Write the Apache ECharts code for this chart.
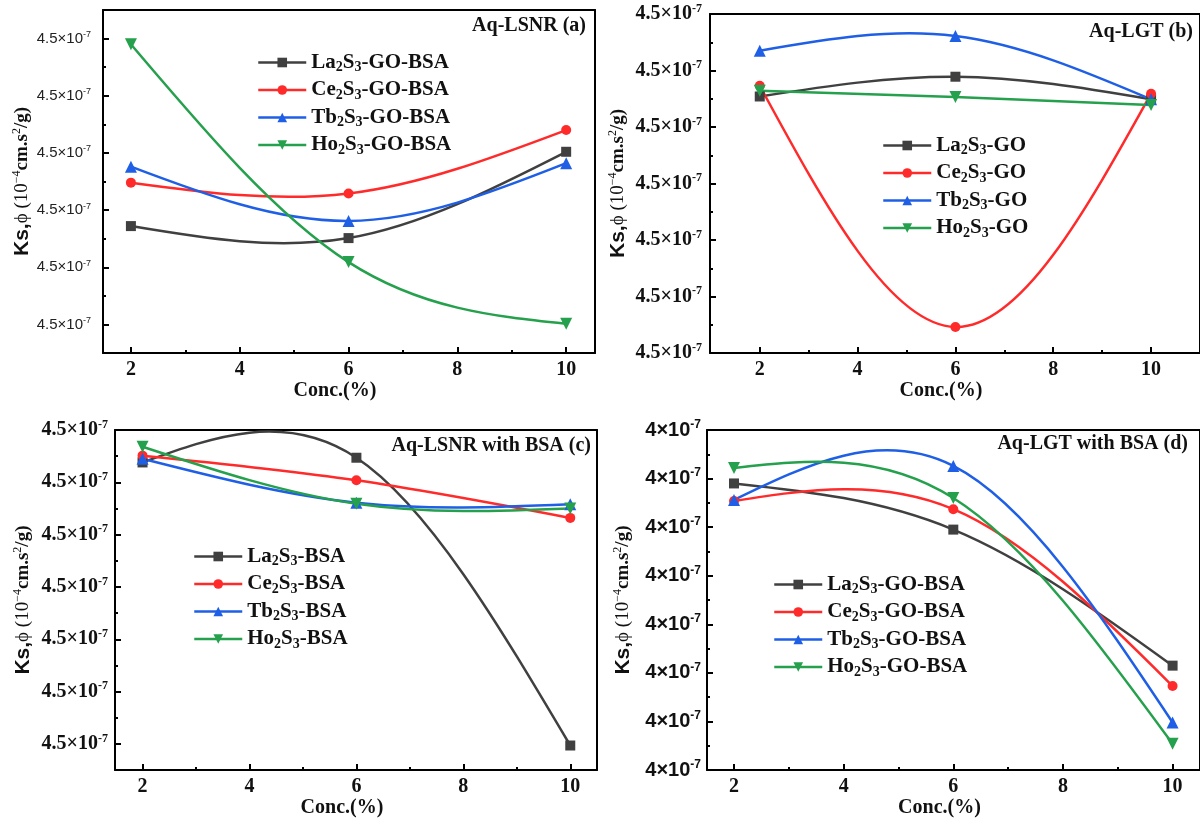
<!DOCTYPE html>
<html><head><meta charset="utf-8">
<script src="https://cdn.jsdelivr.net/npm/echarts@6/dist/echarts.min.js"></script>
<style>html,body{margin:0;padding:0;background:#fff}#c{width:1200px;height:819px}</style>
</head><body><div id="c"></div>
<script>
// ---------- data ----------
const concX = [2, 6, 10];
const xTickValues = [2, 4, 6, 8, 10];
const xTickLabels = ['2', '4', '6', '8', '10'];
const xMinorTicks = [3, 5, 7, 9];

const namesA = ['La2S3-GO-BSA', 'Ce2S3-GO-BSA', 'Tb2S3-GO-BSA', 'Ho2S3-GO-BSA'];
const namesB = ['La2S3-GO', 'Ce2S3-GO', 'Tb2S3-GO', 'Ho2S3-GO'];
const namesC = ['La2S3-BSA', 'Ce2S3-BSA', 'Tb2S3-BSA', 'Ho2S3-BSA'];
const namesD = ['La2S3-GO-BSA', 'Ce2S3-GO-BSA', 'Tb2S3-GO-BSA', 'Ho2S3-GO-BSA'];

// (a) Aq-LSNR
const aLa = [2.22, 2.01, 3.52];
const aCe = [2.98, 2.79, 3.90];
const aTb = [3.26, 2.31, 3.32];
const aHo = [5.40, 1.59, 0.51];
// (b) Aq-LGT
const bLa = [4.54, 4.89, 4.49];
const bCe = [4.73, 0.46, 4.59];
const bTb = [5.35, 5.61, 4.49];
const bHo = [4.64, 4.53, 4.39];
// (c) Aq-LSNR with BSA
const cLa = [5.88, 5.97, 0.47];
const cCe = [6.01, 5.54, 4.82];
const cTb = [5.95, 5.11, 5.08];
const cHo = [6.18, 5.09, 5.00];
// (d) Aq-LGT with BSA
const dLa = [5.90, 4.95, 2.15];
const dCe = [5.54, 5.37, 1.73];
const dTb = [5.56, 6.26, 0.98];
const dHo = [6.22, 5.60, 0.54];

// y tick positions (axis units) and their printed labels
const aYTicks = [0.5, 1.5, 2.5, 3.5, 4.5, 5.5];
const aYTickMantissa = ['4.5', '4.5', '4.5', '4.5', '4.5', '4.5'];
const aYMinor = [1, 2, 3, 4, 5];
const bYTicks = [0, 1, 2, 3, 4, 5, 6];
const bYTickMantissa = ['4.5', '4.5', '4.5', '4.5', '4.5', '4.5', '4.5'];
const bYMinor = [0.5, 1.5, 2.5, 3.5, 4.5, 5.5];
const cYTicks = [0.5, 1.5, 2.5, 3.5, 4.5, 5.5, 6.5];
const cYTickMantissa = ['4.5', '4.5', '4.5', '4.5', '4.5', '4.5', '4.5'];
const cYMinor = [1, 2, 3, 4, 5, 6];
const dYTicks = [0, 1, 2, 3, 4, 5, 6, 7];
const dYTickMantissa = ['4', '4', '4', '4', '4', '4', '4', '4'];
const dYMinor = [0.5, 1.5, 2.5, 3.5, 4.5, 5.5, 6.5];
const yTickExponent = '-7';

const panelTitles = ['Aq-LSNR (a)', 'Aq-LGT (b)', 'Aq-LSNR with BSA (c)', 'Aq-LGT with BSA (d)'];
const xAxisTitle = 'Conc.(%)';

// ---------- styling / layout ----------
const colors = ['#404040', '#ff2b2b', '#1f5fe6', '#25a04c'];
const symbols = ['rect', 'circle', 'triangle', 'triangle'];
const symbolRot = [0, 0, 0, 180];
const symbolSizes = [10, 10, 12, 12];
const SERIF = '"Liberation Serif", "Times New Roman", serif';
const SANS = '"Liberation Sans", Arial, sans-serif';

const panels = [
  { grid: {left: 103, top: 10, width: 492, height: 343}, xMin: 1.487, xMax: 10.53, yMin: 0, yMax: 6,
    yTicks: aYTicks, yMant: aYTickMantissa, yMinor: aYMinor, names: namesA, data: [aLa, aCe, aTb, aHo],
    yFont: {fontFamily: SANS, fontWeight: 'normal', fontSize: 15, color: '#222'}, yMargin: 12, nameGap: 69,
    legend: {left: 252, top: 47}, title: {x: 586, y: 26} },
  { grid: {left: 710, top: 14, width: 493, height: 339}, xMin: 0.983, xMax: 11, yMin: 0, yMax: 6,
    yTicks: bYTicks, yMant: bYTickMantissa, yMinor: bYMinor, names: namesB, data: [bLa, bCe, bTb, bHo],
    yFont: {fontFamily: SERIF, fontWeight: 'bold', fontSize: 20, color: '#111'}, yMargin: 8, nameGap: 81,
    legend: {left: 877, top: 130}, title: {x: 1193, y: 32} },
  { grid: {left: 115, top: 430, width: 482, height: 347}, xMin: 1.485, xMax: 10.5, yMin: 0, yMax: 6.5,
    yTicks: cYTicks, yMant: cYTickMantissa, yMinor: cYMinor, names: namesC, data: [cLa, cCe, cTb, cHo],
    yFont: {fontFamily: SERIF, fontWeight: 'bold', fontSize: 20, color: '#111'}, yMargin: 7, nameGap: 81,
    legend: {left: 188, top: 541}, title: {x: 591, y: 446} },
  { grid: {left: 707, top: 430, width: 497, height: 347}, xMin: 1.507, xMax: 10.5, yMin: 0, yMax: 7,
    yTicks: dYTicks, yMant: dYTickMantissa, yMinor: dYMinor, names: namesD, data: [dLa, dCe, dTb, dHo],
    yFont: {fontFamily: SANS, fontWeight: 'bold', fontSize: 20, color: '#111'}, yMargin: 6, nameGap: 73,
    legend: {left: 768, top: 569}, title: {x: 1188, y: 444} }
];

// natural cubic spline slopes at the knots (like Origin's "Spline" connect)
function splineSegments(xs, ys) {
  const n = xs.length, h = [], M = new Array(n).fill(0);
  for (let i = 0; i < n - 1; i++) h.push(xs[i + 1] - xs[i]);
  if (n > 2) {
    const a = [], b = [], c = [], r = [];
    for (let i = 1; i < n - 1; i++) {
      a.push(h[i - 1]); b.push(2 * (h[i - 1] + h[i])); c.push(h[i]);
      r.push(6 * ((ys[i + 1] - ys[i]) / h[i] - (ys[i] - ys[i - 1]) / h[i - 1]));
    }
    const m = b.length;
    for (let i = 1; i < m; i++) { const w = a[i] / b[i - 1]; b[i] -= w * c[i - 1]; r[i] -= w * r[i - 1]; }
    const sol = new Array(m);
    sol[m - 1] = r[m - 1] / b[m - 1];
    for (let i = m - 2; i >= 0; i--) sol[i] = (r[i] - c[i] * sol[i + 1]) / b[i];
    for (let i = 0; i < m; i++) M[i + 1] = sol[i];
  }
  const segs = [];
  for (let i = 0; i < n - 1; i++) {
    const s = (ys[i + 1] - ys[i]) / h[i];
    const d0 = s - h[i] * (2 * M[i] + M[i + 1]) / 6;
    const d1 = s + h[i] * (M[i] + 2 * M[i + 1]) / 6;
    segs.push({p0: [xs[i], ys[i]], c1: [xs[i] + h[i] / 3, ys[i] + d0 * h[i] / 3],
               c2: [xs[i + 1] - h[i] / 3, ys[i + 1] - d1 * h[i] / 3], p1: [xs[i + 1], ys[i + 1]]});
  }
  return segs;
}

const axisLineStyle = {color: '#000', width: 2};
const grids = [], xAxes = [], yAxes = [], series = [], legends = [], graphics = [];

panels.forEach((p, i) => {
  grids.push(Object.assign({containLabel: false}, p.grid));
  const xBase = xAxes.length;
  xAxes.push({
    type: 'value', gridIndex: i, min: p.xMin, max: p.xMax, position: 'bottom',
    axisLine: {show: true, onZero: false, lineStyle: axisLineStyle},
    axisTick: {show: true, inside: true, length: 6, lineStyle: {color: '#000', width: 2}, customValues: xTickValues},
    axisLabel: {show: true, customValues: xTickValues, margin: 7,
      formatter: v => xTickLabels[xTickValues.indexOf(v)] || '',
      fontFamily: SERIF, fontWeight: 'bold', fontSize: 20, color: '#111'},
    splitLine: {show: false},
    name: xAxisTitle, nameLocation: 'middle', nameGap: 25,
    nameTextStyle: {fontFamily: SERIF, fontWeight: 'bold', fontSize: 20, color: '#111', padding: [0, 28, 0, 0]}
  });
  xAxes.push({
    type: 'value', gridIndex: i, min: p.xMin, max: p.xMax, position: 'bottom',
    axisLine: {show: false}, splitLine: {show: false}, axisLabel: {show: false},
    axisTick: {show: true, inside: true, length: 3, lineStyle: {color: '#000', width: 2}, customValues: xMinorTicks}
  });
  xAxes.push({
    type: 'value', gridIndex: i, min: p.xMin, max: p.xMax, position: 'top',
    axisLine: {show: true, onZero: false, lineStyle: axisLineStyle},
    axisTick: {show: false}, axisLabel: {show: false}, splitLine: {show: false}
  });
  const yBase = yAxes.length;
  const labelMap = {};
  p.yTicks.forEach((t, k) => { labelMap[t] = p.yMant[k]; });
  yAxes.push({
    type: 'value', gridIndex: i, min: p.yMin, max: p.yMax, position: 'left',
    axisLine: {show: true, onZero: false, lineStyle: axisLineStyle},
    axisTick: {show: true, inside: true, length: 6, lineStyle: {color: '#000', width: 2}, customValues: p.yTicks},
    axisLabel: Object.assign({show: true, customValues: p.yTicks, margin: p.yMargin,
      formatter: v => (labelMap[v] !== undefined ? labelMap[v] + '×10{sup|' + yTickExponent + '}' : ''),
      rich: {sup: {fontFamily: p.yFont.fontFamily, fontWeight: p.yFont.fontWeight, color: p.yFont.color,
        fontSize: Math.round(p.yFont.fontSize * 0.62), padding: [0, 0, Math.round(p.yFont.fontSize * 0.55), 0]}}
    }, p.yFont),
    splitLine: {show: false},
    name: '{k|Ks,}{p|ϕ (10}{s|−4}{b|cm.s}{s|2}{b|/g)}', nameLocation: 'middle', nameGap: p.nameGap, nameRotate: 90,
    nameTextStyle: {
      rich: {
        k: {fontFamily: SANS, fontWeight: 'bold', fontSize: 21, color: '#111'},
        p: {fontFamily: SERIF, fontWeight: 'normal', fontSize: 19, color: '#111'},
        b: {fontFamily: SERIF, fontWeight: 'bold', fontSize: 19, color: '#111'},
        s: {fontFamily: SERIF, fontWeight: 'normal', fontSize: 12, color: '#111', padding: [0, 0, 10, 0]}
      }
    }
  });
  yAxes.push({
    type: 'value', gridIndex: i, min: p.yMin, max: p.yMax, position: 'left',
    axisLine: {show: false}, splitLine: {show: false}, axisLabel: {show: false},
    axisTick: {show: true, inside: true, length: 3, lineStyle: {color: '#000', width: 2}, customValues: p.yMinor}
  });
  yAxes.push({
    type: 'value', gridIndex: i, min: p.yMin, max: p.yMax, position: 'right',
    axisLine: {show: true, onZero: false, lineStyle: axisLineStyle},
    axisTick: {show: false}, axisLabel: {show: false}, splitLine: {show: false}
  });
  p.names.forEach((nm, k) => {
    const ys = p.data[k];
    const pts = concX.map((x, j) => [x, ys[j]]);
    // spline curve through the data points, positioned by the axes
    series.push({
      type: 'custom', name: nm + ' curve', xAxisIndex: xBase, yAxisIndex: yBase,
      data: pts, z: 2 + k, silent: true, clip: false,
      renderItem: (params, api) => {
        if (params.dataIndex !== 0) return null;
        const segs = splineSegments(concX, ys);
        return {
          type: 'group',
          children: segs.map(s => {
            const a = api.coord(s.p0), c1 = api.coord(s.c1), c2 = api.coord(s.c2), b = api.coord(s.p1);
            return {type: 'bezierCurve',
              shape: {x1: a[0], y1: a[1], cpx1: c1[0], cpy1: c1[1], cpx2: c2[0], cpy2: c2[1], x2: b[0], y2: b[1]},
              style: {stroke: colors[k], lineWidth: 2.5, fill: null}};
          })
        };
      }
    });
    // markers
    series.push({
      type: 'line', name: nm, xAxisIndex: xBase, yAxisIndex: yBase,
      data: pts, smooth: false,
      symbol: symbols[k], symbolRotate: symbolRot[k], symbolSize: symbolSizes[k],
      lineStyle: {color: colors[k], width: 2.5, opacity: 0},
      itemStyle: {color: colors[k]},
      z: 10 + k, clip: false
    });
  });
  legends.push({
    orient: 'vertical', left: p.legend.left, top: p.legend.top, itemGap: 5,
    itemWidth: 48, itemHeight: 12,
    data: p.names.map((nm, k) => ({name: nm, lineStyle: {color: colors[k], width: 2.5, opacity: 1}})),
    formatter: nm => nm.replace(/(\d)/g, '{sub|$1}'),
    textStyle: {fontFamily: SERIF, fontWeight: 'bold', fontSize: 21, color: '#111',
      rich: {sub: {fontFamily: SERIF, fontWeight: 'bold', fontSize: 14, color: '#111', padding: [10, 0, 0, 0]}}},
    selectedMode: false
  });
  graphics.push({
    type: 'text', x: p.title.x, y: p.title.y,
    style: {text: panelTitles[i], font: 'bold 20px ' + SERIF, fill: '#111', textAlign: 'right', textVerticalAlign: 'middle'}
  });
});

const chart = echarts.init(document.getElementById('c'), null, {renderer: 'canvas'});
chart.setOption({
  backgroundColor: '#ffffff',
  animation: false,
  grid: grids, xAxis: xAxes, yAxis: yAxes, series: series, legend: legends, graphic: graphics
});
</script></body></html>
